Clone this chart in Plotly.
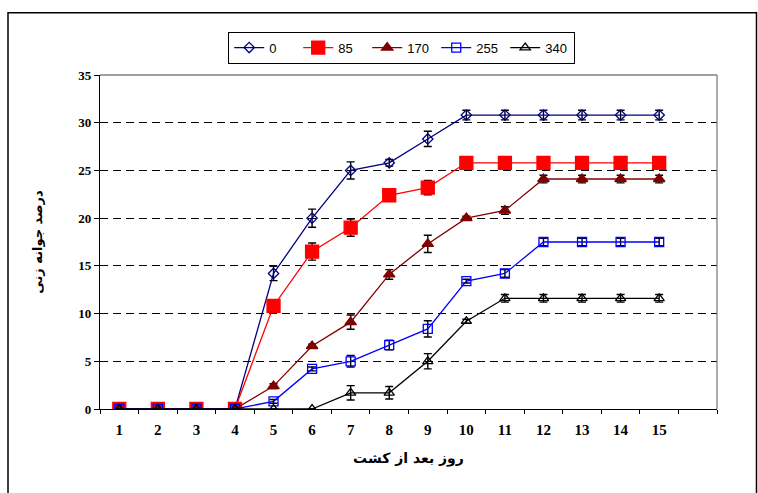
import plotly.graph_objects as go

days = [str(d) for d in range(1, 16)]
categories = days + [" "]
series_names = ["0", "85", "170", "255", "340"]

s0 = [0, 0, 0, 0, 14.2, 20.0, 25.0, 25.8, 28.3, 30.8, 30.8, 30.8, 30.8, 30.8, 30.8]
s85 = [0, 0, 0, 0, 10.8, 16.5, 19.0, 22.4, 23.2, 25.8, 25.8, 25.8, 25.8, 25.8, 25.8]
s170 = [0, 0, 0, 0, 2.4, 6.6, 9.1, 14.1, 17.3, 20.0, 20.8, 24.1, 24.1, 24.1, 24.1]
s255 = [0, 0, 0, 0, 0.8, 4.2, 5.0, 6.7, 8.4, 13.4, 14.2, 17.5, 17.5, 17.5, 17.5]
s340 = [0, 0, 0, 0, 0, 0, 1.7, 1.7, 5.0, 9.2, 11.6, 11.6, 11.6, 11.6, 11.6]

e0 = [0, 0, 0, 0, 0.75, 0.95, 0.9, 0.35, 0.8, 0.5, 0.5, 0.5, 0.5, 0.5, 0.5]
e85 = [0, 0, 0, 0, 0.6, 0.9, 0.9, 0.3, 0.75, 0.4, 0.4, 0.4, 0.4, 0.4, 0.4]
e170 = [0, 0, 0, 0, 0.25, 0.2, 0.75, 0.5, 0.9, 0.2, 0.4, 0.4, 0.4, 0.4, 0.4]
e255 = [0, 0, 0, 0, 0.2, 0.2, 0.6, 0.5, 0.85, 0.2, 0.4, 0.4, 0.4, 0.4, 0.4]
e340 = [0, 0, 0, 0, 0, 0, 0.75, 0.65, 0.8, 0.2, 0.4, 0.4, 0.4, 0.4, 0.4]

y_ticks = [0, 5, 10, 15, 20, 25, 30, 35]
x_title = "روز بعد از کشت"
y_title = "درصد جوانه زنی"

styles = [
    dict(color="#000080", symbol="diamond-open", size=8, mcolor="#000080"),
    dict(color="#FF0000", symbol="square", size=13, mcolor="#FF0000"),
    dict(color="#800000", symbol="triangle-up", size=10, mcolor="#800000"),
    dict(color="#0000FF", symbol="square-open", size=9, mcolor="#0000FF"),
    dict(color="#000000", symbol="triangle-up-open", size=9, mcolor="#000000"),
]

fig = go.Figure()
for name, vals, errs, st in zip(series_names, [s0, s85, s170, s255, s340],
                                [e0, e85, e170, e255, e340], styles):
    fig.add_trace(go.Scatter(
        x=days, y=vals, name=name, mode="lines+markers",
        line=dict(color=st["color"], width=1.3),
        marker=dict(symbol=st["symbol"], size=st["size"], color=st["mcolor"],
                    line=dict(color=st["mcolor"], width=1.3)),
        error_y=dict(type="data", array=errs, visible=True, color="black",
                     thickness=1.4, width=4),
    ))

fig.update_layout(
    width=758, height=493,
    margin=dict(l=100, r=41, t=75, b=84, autoexpand=False),
    paper_bgcolor="white", plot_bgcolor="white",
    showlegend=True,
    legend=dict(orientation="h", x=0.489, xanchor="center", y=1.13, yanchor="top",
                bordercolor="black", borderwidth=1, bgcolor="white",
                font=dict(family="Liberation Sans, Arial", size=13, color="black"),
                entrywidth=24, entrywidthmode="pixels", tracegroupgap=0),
    xaxis=dict(
        type="category", categoryorder="array", categoryarray=categories,
        range=[-0.5, 15.5], tickson="boundaries", ticks="outside", ticklen=4,
        tickcolor="black", showline=True, linecolor="black", linewidth=1.3,
        showgrid=False, zeroline=False, automargin=False, ticklabelstandoff=7,
        tickfont=dict(family="Liberation Serif, Times New Roman", size=15, color="black", weight="bold"),
        title=dict(text=x_title, standoff=16,
                   font=dict(family="DejaVu Sans", size=14, color="black", weight="bold")),
    ),
    yaxis=dict(
        range=[0, 35], tickvals=y_ticks, ticks="outside", ticklen=5,
        tickcolor="black", showline=True, linecolor="black", linewidth=1.3,
        showgrid=True, gridcolor="black", gridwidth=1, griddash="8px,5px",
        zeroline=False, automargin=False,
        tickfont=dict(family="Liberation Serif, Times New Roman", size=13, color="black", weight="bold"),
        title=dict(text=y_title, standoff=32,
                   font=dict(family="DejaVu Sans", size=13, color="black", weight="bold")),
    ),
    shapes=[
        dict(type="line", xref="paper", yref="paper", x0=0, x1=1, y0=1, y1=1,
             line=dict(color="#808080", width=1.3), layer="above"),
        dict(type="line", xref="paper", yref="paper", x0=1, x1=1, y0=0, y1=1,
             line=dict(color="#808080", width=1.3), layer="above"),
        dict(type="rect", xref="paper", yref="paper", x0=-0.1491, x1=1.064,
             y0=-0.3, y1=1.1866, line=dict(color="black", width=1.5),
             fillcolor="rgba(0,0,0,0)", layer="above"),
    ],
)

fig.write_html("out.html", config={"displayModeBar": False},
               post_script="document.body.style.margin='0';document.body.style.overflow='hidden';")
